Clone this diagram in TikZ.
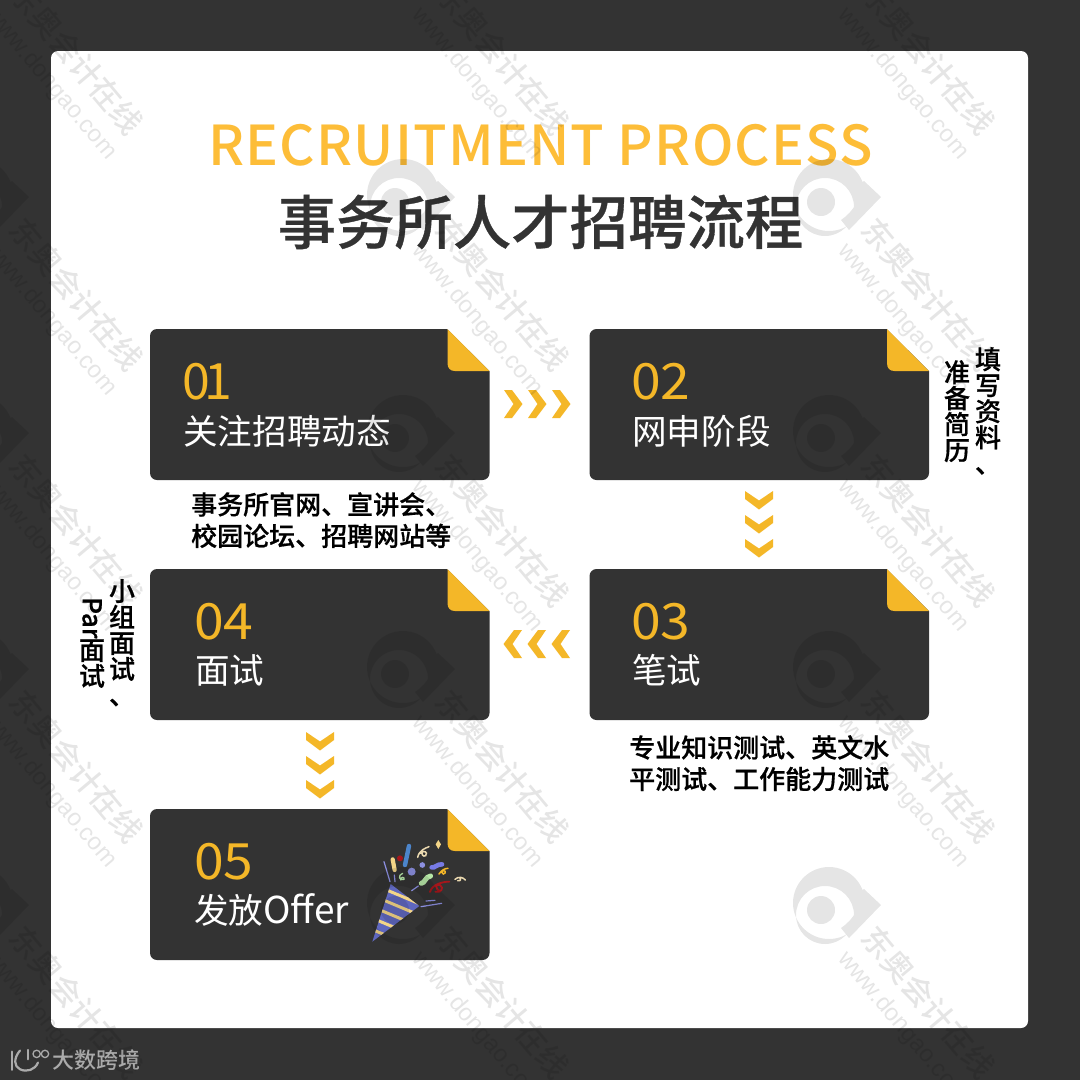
\documentclass[tikz,border=0pt]{standalone}
\usepackage{fontspec}
\usetikzlibrary{calc}
\newfontfamily\cjk{Noto Sans CJK SC}
\newfontfamily\cjkm{Noto Sans CJK SC Medium}
\newfontfamily\cjkh[FakeBold=0.6]{Noto Sans CJK SC Medium}
\newfontfamily\ttl[LetterSpace=2.2]{Noto Sans CJK SC Medium}
\newfontfamily\wmlat{Liberation Sans}
\definecolor{dk}{HTML}{333333}
\definecolor{amber}{HTML}{F4B728}
\definecolor{titleamber}{HTML}{FDBD38}
\definecolor{popblue}{HTML}{5F67BE}
\definecolor{popyel}{HTML}{F3D587}
\definecolor{poplil}{HTML}{8C8FE0}
\definecolor{popgrn}{HTML}{B6E6A6}
\definecolor{popred}{HTML}{A5161B}
\definecolor{popcrm}{HTML}{EBD9B0}
\definecolor{mark}{HTML}{ABABAB}
\tikzset{
  x=1pt,y=-1pt,
  num/.style={anchor=west,text=amber,font=\cjk\fontsize{50}{50}\selectfont,inner sep=0pt},
  cardtitle/.style={anchor=west,text=white,font=\cjk\fontsize{34.6}{34.6}\selectfont,inner sep=0pt},
  note/.style={anchor=north west,text=black,font=\cjkh\fontsize{26}{31.5}\selectfont,inner sep=0pt,align=left},
  vnote/.style={anchor=north,text=black,font=\cjkh\fontsize{26}{26}\selectfont,inner sep=0pt,align=center},
  wmcn/.style={rotate=-50,text=black,text opacity=.1,font=\cjkm\fontsize{31}{31}\selectfont,inner sep=0pt},
  wmen/.style={rotate=-50,text=black,text opacity=.1,font=\wmlat\fontsize{24}{24}\selectfont,inner sep=0pt},
  notecard/.pic={
    \fill[dk] (297,0) [rounded corners=7pt] -- (0,0) -- (0,151) -- (339.5,151) [sharp corners] -- (339.5,42) -- cycle;
    \fill[amber] (297.5,0) -- (339.5,42) -- (305,42) .. controls (300,42) and (297.5,39) .. (297.5,34) -- cycle;
  },
  chevr/.pic={\foreach \k in {0,24,48}{\fill[amber] (\k,0) -- (\k+8,0) -- (\k+18.5,14) -- (\k+8,28) -- (\k,28) -- (\k+9.5,14) -- cycle;}},
  chevl/.pic={\foreach \k in {0,24,48}{\fill[amber] (18.5-\k,0) -- (10.5-\k,0) -- (-\k,14) -- (10.5-\k,28) -- (18.5-\k,28) -- (9-\k,14) -- cycle;}},
  chevd/.pic={\foreach \k in {0,24,48}{\fill[amber] (-14,\k) -- (-14,\k+8) -- (0,\k+18.5) -- (14,\k+8) -- (14,\k) -- (0,\k+9.5) -- cycle;}},
}
\begin{document}
\begin{tikzpicture}
\useasboundingbox (0,0) rectangle (1080,1080);
\fill[dk] (0,0) rectangle (1080,1080);
\fill[white,rounded corners=7pt] (51,51) rectangle (1028,1028);

\node[text=titleamber,font=\ttl\fontsize{55}{55}\selectfont,inner sep=0pt] (title) at (540.5,145) {RECRUITMENT PROCESS};
\node[text=dk,font=\cjkh\fontsize{58.4}{58.4}\selectfont,inner sep=0pt] (subtitle) at (540.5,222) {事务所人才招聘流程};

\pic (card1) at (150,329) {notecard};
\pic (card2) at (589.5,329) {notecard};
\pic (card3) at (589.5,569) {notecard};
\pic (card4) at (150,569) {notecard};
\pic (card5) at (150,809) {notecard};

\node[num] (n1) at (182,382) {0\kern-5pt 1};
\node[cardtitle] (t1) at (183,431) {关注招聘动态};
\node[num] (n2) at (631,382) {\scalebox{1.07}[1]{02}};
\node[cardtitle] (t2) at (632,431) {网申阶段};
\node[num] (n3) at (631,622) {\scalebox{1.07}[1]{03}};
\node[cardtitle] (t3) at (632,670) {笔试};
\node[num] (n4) at (194,622) {\scalebox{1.07}[1]{04}};
\node[cardtitle] (t4) at (195,670) {面试};
\node[num] (n5) at (194,862) {\scalebox{1.07}[1]{05}};
\node[cardtitle] (t5) at (194,910) {发放{\fontsize{37}{37}\selectfont Offer}};

\node[note] (s1) at (191,492) {事务所官网、宣讲会、\\校园论坛、招聘网站等};
\node[note] (s3) at (629,735) {专业知识测试、英文水\\平测试、工作能力测试};

\node[vnote] (v2a) at (988,347) {填\\写\\资\\料\\、};
\node[vnote] (v2b) at (957,360) {准\\备\\简\\历};
\node[vnote] (v4a) at (122,579) {小\\组\\面\\试\\、};
\node[vnote] (v4b) at (92,597) {\rotatebox{-90}{Par}\\面\\试};

\pic (a12) at (504,390) {chevr};
\pic (a23) at (759,491) {chevd};
\pic (a34) at (551.5,630) {chevl};
\pic (a45) at (320,732) {chevd};

% party popper
\begin{scope}[shift={(360,800)},x=.3333pt,y=-.3333pt,line cap=round]
  \fill[popblue] (92,252) -- (178,318) -- (37,425) -- cycle;
  \begin{scope}
    \clip (92,252) -- (178,318) -- (37,425) -- cycle;
    \foreach \d in {0,1,2,3,4}{
      \draw[popyel,line width=3pt] ($(80,270)+(\d*-10,\d*30)$) -- ++(100,42);
    }
  \end{scope}
  \draw[poplil,line width=1.2pt] (72,185) -- (90,245) (103,225) -- (105,245) (155,272) -- (175,258) (183,320) -- (245,310) (198,303) -- (225,301);
  \draw[popblue!80!cyan,line width=4.4pt] (147,138) -- (135,195);
  \fill[popred] (120,175) circle[radius=9];
  \draw[popyel,line width=4.2pt] (98,178) -- (104,210);
  \draw[popgrn,line width=1.3pt] (128,220) .. controls (112,225) and (118,245) .. (132,238) .. controls (135,232) and (122,228) .. (122,240);
  \fill[poplil] (155,215) circle[radius=12];
  \fill[poplil] (187,195) circle[radius=8.5];
  \draw[poplil!85!blue,line width=4.6pt] (215,202) .. controls (225,205) and (230,192) .. (246,193);
  \draw[popcrm,line width=1.5pt] (173,172) .. controls (178,150) and (195,145) .. (207,140) (180,160) .. controls (192,150) and (205,155) .. (197,167) .. controls (190,172) and (182,162) .. (188,155);
  \fill[popyel] (235,120) -- (243,133) -- (235,147) -- (227,133) -- cycle;
  \draw[amber,line width=1.5pt] (237,222) .. controls (245,210) and (255,205) .. (264,205) (243,215) .. controls (255,205) and (262,220) .. (250,222) .. controls (245,222) and (244,214) .. (250,210);
  \draw[popgrn,line width=5pt] (184,250) .. controls (195,250) and (195,230) .. (212,228);
  \draw[popred,line width=1.8pt] (210,276) .. controls (215,255) and (245,245) .. (268,245) (226,275) .. controls (240,280) and (255,265) .. (240,255) .. controls (225,250) and (225,265) .. (240,275);
  \draw[popcrm,line width=1.5pt] (285,238) .. controls (295,228) and (310,232) .. (316,240) (297,232) .. controls (305,235) and (302,245) .. (293,242);
\end{scope}

% bottom-left mark
\begin{scope}[x=.3333pt,y=-.3333pt,shift={(0,3090)},line cap=round,draw=mark,line width=2.2pt]
  \draw (37,65) -- (37,120);
  \draw (60,62) .. controls (40,85) and (42,110) .. (60,118) .. controls (80,128) and (105,120) .. (114,98);
  \draw (85,60) -- (85,88);
  \draw[line width=1.3pt] (110,72) circle[radius=11];
  \draw[line width=1.3pt] (135,72) circle[radius=11];
\end{scope}
\node[text=mark,font=\cjkm\fontsize{22}{22}\selectfont,inner sep=0pt,anchor=west] (brand) at (52,1060) {大数跨境};

% watermark grid
\foreach \cx [count=\i] in {-31,395,821}{
  \foreach \cy [count=\j] in {-34,202,438,674,910,1146}{
    \begin{scope}[shift={(\cx,\cy)}]
      \fill[black,fill opacity=.1]
        (44,-7) arc[start angle=0,end angle=360,radius=36]
        (33,5) arc[start angle=0,end angle=-360,radius=29]
        (43,-21) -- (60,-5) -- (28,28) -- (20,18) .. controls (32,10) and (42,-5) .. (35,-15) -- cycle
        (14,0) arc[start angle=0,end angle=360,radius=14];
      \node[wmcn] (wc\i\j) at (107.5,92.5) {东奥会计在线};
      \node[wmen] (we\i\j) at (82,118) {www.dongao.com};
    \end{scope}
  }
}
\end{tikzpicture}
\end{document}
